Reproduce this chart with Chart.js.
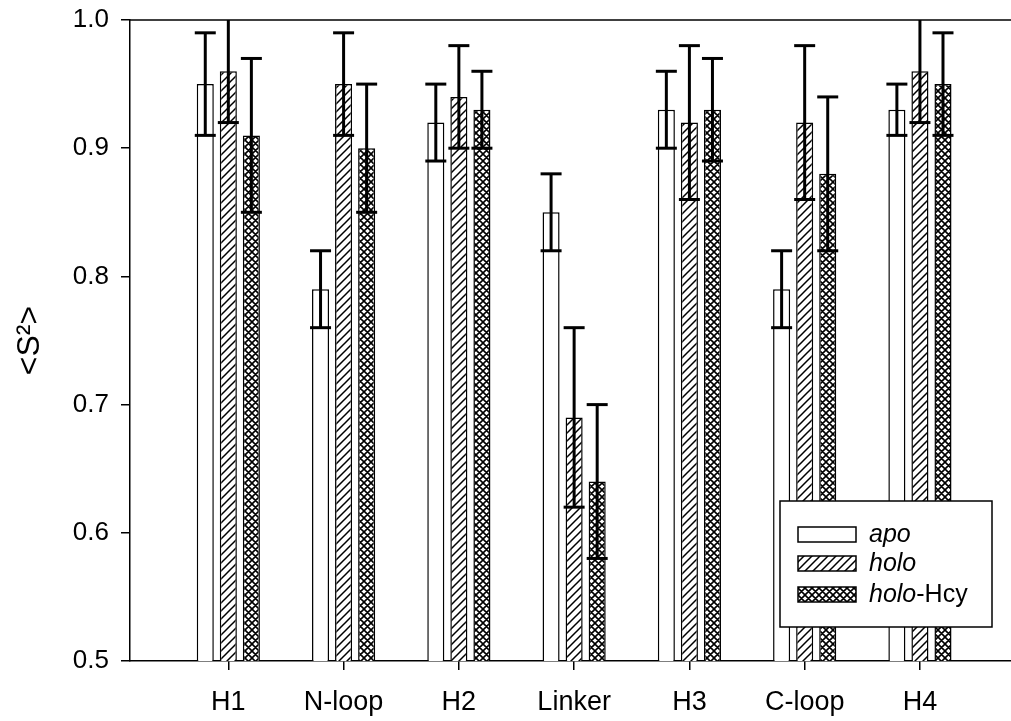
<!DOCTYPE html>
<html>
<head>
<meta charset="utf-8">
<script src="https://cdn.jsdelivr.net/npm/chart.js@4/dist/chart.umd.min.js"></script>
<style>
html,body{margin:0;padding:0;background:#fff;}
#wrap{width:1011px;height:721px;}
</style>
</head>
<body>
<div id="wrap"><canvas id="c" width="1011" height="721"></canvas></div>
<script>
const categories = ['H1','N-loop','H2','Linker','H3','C-loop','H4'];
const apoValues  = [0.95,0.79,0.92,0.85,0.93,0.79,0.93];
const apoErrors  = [0.04,0.03,0.03,0.03,0.03,0.03,0.02];
const holoValues = [0.96,0.95,0.94,0.69,0.92,0.92,0.96];
const holoErrors = [0.04,0.04,0.04,0.07,0.06,0.06,0.04];
const hcyValues  = [0.91,0.90,0.93,0.64,0.93,0.88,0.95];
const hcyErrors  = [0.06,0.05,0.03,0.06,0.04,0.06,0.04];
const yTicks = [0.5,0.6,0.7,0.8,0.9,1.0];
const seriesNames = ['apo','holo','holo-Hcy'];

const FONT = '"Liberation Sans", Arial, sans-serif';

function makePattern(cross){
  const s = cross ? 7 : 8;
  const c = document.createElement('canvas');
  c.width = s; c.height = s;
  const g = c.getContext('2d');
  g.fillStyle = '#fff'; g.fillRect(0,0,s,s);
  g.strokeStyle = '#000'; g.lineWidth = cross ? 1.6 : 1.5;
  g.beginPath();
  g.moveTo(-2,s+2); g.lineTo(s+2,-2);
  g.moveTo(-2,2); g.lineTo(2,-2);
  g.moveTo(s-2,s+2); g.lineTo(s+2,s-2);
  if (cross){
    g.moveTo(-2,-2); g.lineTo(s+2,s+2);
    g.moveTo(s-2,-2); g.lineTo(s+2,2);
    g.moveTo(-2,s-2); g.lineTo(2,s+2);
  }
  g.stroke();
  return g.createPattern(c,'repeat');
}
const holoPat = makePattern(false);
const hcyPat = makePattern(true);
const fills = ['#ffffff', holoPat, hcyPat];
const valuesList = [apoValues, holoValues, hcyValues];
const errorsList = [apoErrors, holoErrors, hcyErrors];

const datasets = valuesList.map((vals, k) => ({
  label: seriesNames[k],
  data: vals.map((v,i) => ({x: i+1, y: v})),
  backgroundColor: fills[k],
  borderColor: '#000',
  borderWidth: 1.5,
  categoryPercentage: 0.6,
  barPercentage: 0.74
}));

const errorBars = {
  id: 'errorBars',
  afterDatasetsDraw(chart){
    const ctx = chart.ctx, ca = chart.chartArea, ys = chart.scales.y;
    ctx.save();
    ctx.beginPath();
    ctx.rect(ca.left, ca.top, ca.right-ca.left, ca.bottom-ca.top);
    ctx.clip();
    ctx.strokeStyle = '#000';
    ctx.lineWidth = 3;
    ctx.lineCap = 'butt';
    chart.data.datasets.forEach((ds, k) => {
      const meta = chart.getDatasetMeta(k);
      meta.data.forEach((bar, j) => {
        const v = valuesList[k][j], e = errorsList[k][j];
        const yt = ys.getPixelForValue(v+e), yb = ys.getPixelForValue(v-e);
        const x = bar.x, hw = 10.5;
        ctx.beginPath();
        ctx.moveTo(x, yb); ctx.lineTo(x, Math.max(yt, ca.top));
        ctx.stroke();
        [yt, yb].forEach(yy => {
          if (yy > ca.top + 1 && yy < ca.bottom - 1){
            ctx.beginPath(); ctx.moveTo(x-hw, yy); ctx.lineTo(x+hw, yy); ctx.stroke();
          }
        });
      });
    });
    ctx.restore();
  },
  afterDraw(chart){
    const ctx = chart.ctx, ca = chart.chartArea;
    ctx.save();
    ctx.strokeStyle = '#000'; ctx.lineWidth = 1.5;
    ctx.beginPath(); ctx.moveTo(ca.left, ca.top); ctx.lineTo(ca.right, ca.top); ctx.stroke();
    const bx = 780, by = 501, bw = 212, bh = 126;
    ctx.fillStyle = '#fff';
    ctx.fillRect(bx, by, bw, bh);
    ctx.strokeRect(bx, by, bw, bh);
    const rows = [534.5, 563.5, 594.5];
    rows.forEach((cy, k) => {
      ctx.fillStyle = fills[k];
      ctx.fillRect(798, cy-7.5, 58, 15);
      ctx.lineWidth = 1.5; ctx.strokeStyle = '#000';
      ctx.strokeRect(798, cy-7.5, 58, 15);
      ctx.fillStyle = '#000';
      ctx.textBaseline = 'middle';
      ctx.textAlign = 'left';
      const name = seriesNames[k];
      const cut = name.indexOf('-');
      const parts = cut > 0 ? [name.slice(0, cut), name.slice(cut)] : [name, ''];
      ctx.font = 'italic 25px ' + FONT;
      ctx.fillText(parts[0], 869, cy+1);
      const w = ctx.measureText(parts[0]).width;
      if (parts[1]){
        ctx.font = '25px ' + FONT;
        ctx.fillText(parts[1], 869 + w, cy+1);
      }
    });
    ctx.restore();
  }
};

new Chart(document.getElementById('c'), {
  type: 'bar',
  data: { datasets },
  options: {
    responsive: false,
    animation: false,
    layout: { padding: { top: 20, left: 0, right: 0, bottom: 0 } },
    plugins: { legend: { display: false }, tooltip: { enabled: false } },
    scales: {
      x: {
        type: 'linear',
        offset: false,
        min: 0.147,
        max: 7.79,
        afterBuildTicks: s => { s.ticks = categories.map((c,i) => ({value: i+1})); },
        afterFit: s => { s.height = 60; s.paddingLeft = 0; s.paddingRight = 0; },
        ticks: {
          callback: (v) => categories[Math.round(v)-1] || '',
          font: { family: FONT, size: 27 },
          color: '#000',
          padding: 16,
          maxRotation: 0,
          autoSkip: false
        },
        grid: { display: true, offset: false, drawOnChartArea: false, drawTicks: true, tickLength: 9, color: '#000', lineWidth: 1.5 },
        border: { display: true, color: '#000', width: 1.5 }
      },
      y: {
        min: 0.5,
        max: 1.0,
        afterBuildTicks: s => { s.ticks = yTicks.map(v => ({value: v})); },
        afterFit: s => { s.width = 130; s.paddingTop = 0; s.paddingBottom = 0; },
        ticks: {
          callback: v => Number(v).toFixed(1),
          font: { family: FONT, size: 26 },
          color: '#000',
          padding: 12
        },
        grid: { display: true, offset: false, drawOnChartArea: false, drawTicks: true, tickLength: 9, color: '#000', lineWidth: 1.5 },
        border: { display: true, color: '#000', width: 1.5 },
        title: {
          display: true,
          text: '<S²>',
          font: { family: FONT, size: 32 },
          color: '#000',
          padding: { top: 11, bottom: 0 }
        }
      }
    }
  },
  plugins: [errorBars]
});
</script>
</body>
</html>
